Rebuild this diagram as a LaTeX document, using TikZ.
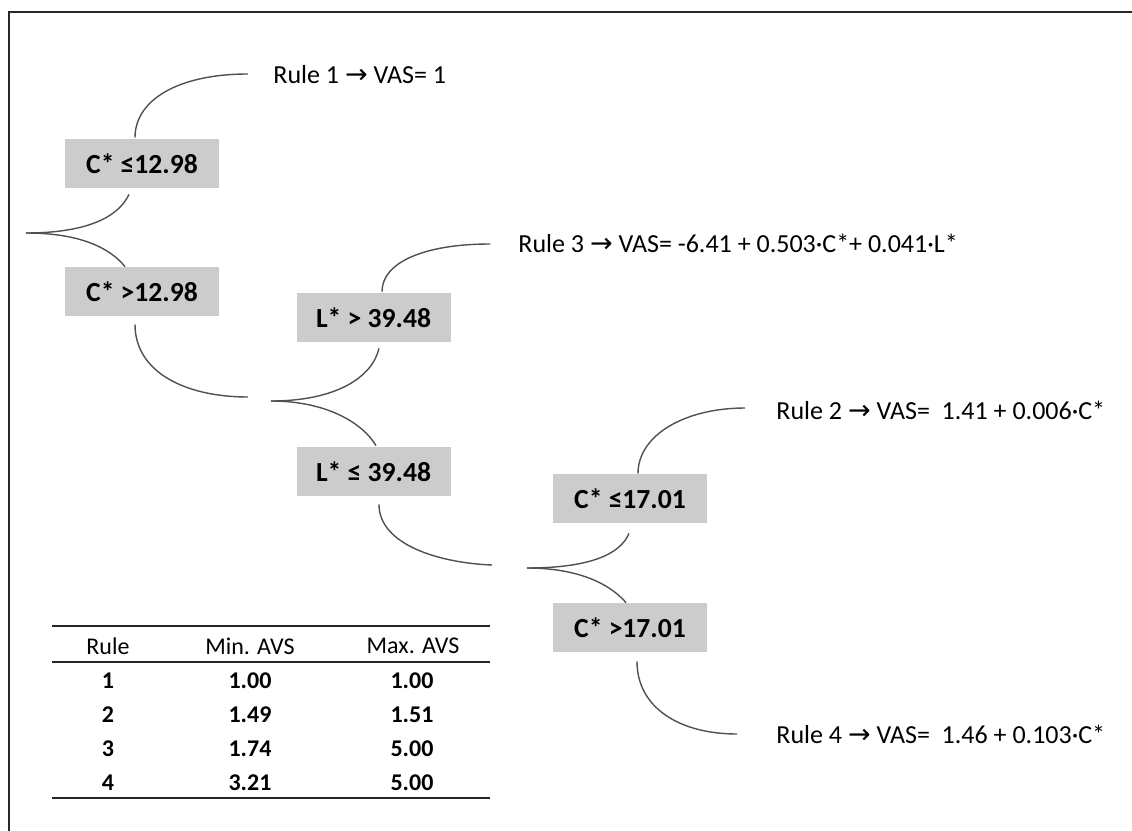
\documentclass[tikz,border=0pt]{standalone}
\usepackage{fontspec}
\setmainfont{Carlito}
\newfontfamily\symfont{DejaVu Sans}
\usetikzlibrary{calc}
\definecolor{boxgray}{RGB}{204,204,204}
\definecolor{linegray}{RGB}{80,80,80}
\definecolor{framegray}{RGB}{40,40,40}
\newcommand{\ra}{{\symfont\fontsize{13.5}{13.5}\selectfont →}}

\begin{document}
\begin{tikzpicture}[x=0.5pt, y=-0.5pt,
  cond/.style={fill=boxgray, minimum width=77pt, minimum height=24.5pt,
    inner sep=0pt, font=\fontsize{13.8}{15}\selectfont\bfseries},
  rulelabel/.style={anchor=west, inner sep=0pt, font=\fontsize{13}{15}\selectfont},
  branch/.style={draw=linegray, line width=0.7pt},
  cell/.style={inner sep=0pt, font=\fontsize{12}{14}\selectfont},
  datacell/.style={cell, font=\fontsize{12}{14}\selectfont\bfseries},
  tablerule/.style={draw=black!85, line width=0.9pt}]

\useasboundingbox (0,0) rectangle (1132,831);

% open frame: top and left edges only
\draw[framegray, line width=0.8pt] (9,831) -- (9,12) -- (1132,12);

% split points of the tree
\coordinate (s1) at (26,233);
\coordinate (s2) at (271,401);
\coordinate (s3) at (527,568);

% condition boxes
\node[cond] (c1) at (142,163.5) {C* ≤12.98};
\node[cond] (c2) at (142,291.5) {C* >12.98};
\node[cond] (l1) at (373.5,317.5) {L* > 39.48};
\node[cond] (l2) at (373.5,471.5) {L* ≤ 39.48};
\node[cond] (k1) at (630,498.5) {C* ≤17.01};
\node[cond] (k2) at (630,627.5) {C* >17.01};

% leaf ends and rule labels
\coordinate (e1) at (248,74);
\coordinate (e3) at (490,244);
\coordinate (e2) at (745,408);
\coordinate (e4) at (737,734);
\node[rulelabel] (r1) at (273,75) {Rule 1 \ra\ VAS= 1};
\node[rulelabel] (r3) at (518,243) {Rule 3 \ra\ VAS= -6.41 + 0.503·C*+ 0.041·L*};
\node[rulelabel] (r2) at (776,410) {Rule 2 \ra\ VAS=\ \ 1.41 + 0.006·C*};
\node[rulelabel] (r4) at (776,734) {Rule 4 \ra\ VAS=\ \ 1.46 + 0.103·C*};

% first split
\draw[branch] (s1) .. controls (85,233) and (118,218) .. ($(c1.south)+(-13,6)$);
\draw[branch] (s1) .. controls (80,233) and (110,248) .. ($(c2.north)+(-17,0)$);
\draw[branch] ($(c1.north)+(-7,-1)$) .. controls (135,100) and (178,74) .. (e1);
\draw[branch] ($(c2.south)+(-7,8)$) .. controls (135,372) and (185,397) .. ($(s2)+(-23,-4)$);

% second split
\draw[branch] (s2) .. controls (335,401) and (372,378) .. ($(l1.south)+(5.5,6)$);
\draw[branch] (s2) .. controls (325,401) and (362,422) .. ($(l2.north)+(2.5,-1)$);
\draw[branch] ($(l1.north)+(8.5,-1)$) .. controls (382,262) and (425,244) .. (e3);
\draw[branch] ($(l2.south)+(5.5,8)$) .. controls (379,545) and (440,563) .. ($(s3)+(-35,-3)$);

% third split
\draw[branch] (s3) .. controls (588,568) and (620,555) .. ($(k1.south)+(-1,10)$);
\draw[branch] (s3) .. controls (575,568) and (608,582) .. ($(k2.north)+(-4,0)$);
\draw[branch] ($(k1.north)+(8,0)$) .. controls (638,435) and (685,408) .. (e2);
\draw[branch] ($(k2.south)+(7,9)$) .. controls (637,708) and (680,734) .. (e4);

% summary table
\coordinate (tl) at (52,626);  \coordinate (tr) at (490,626);
\coordinate (hl) at (52,662);  \coordinate (hr) at (490,662);
\coordinate (bl) at (52,798);  \coordinate (br) at (490,798);
\draw[tablerule, line width=1pt] (tl) -- (tr);
\draw[tablerule] (hl) -- (hr);
\draw[tablerule, line width=1pt] (bl) -- (br);

\node[cell] (h1) at (108,646) {Rule};
\node[cell] (h2) at (250,646) {Min. AVS};
\node[cell] (h3) at (413,646) {Max. AVS};

\node[datacell] (a1) at (108,681) {1};
\node[datacell] (b1) at (250,681) {1.00};
\node[datacell] (d1) at (412,681) {1.00};
\node[datacell] (a2) at (108,715) {2};
\node[datacell] (b2) at (250,715) {1.49};
\node[datacell] (d2) at (412,715) {1.51};
\node[datacell] (a3) at (108,749) {3};
\node[datacell] (b3) at (250,749) {1.74};
\node[datacell] (d3) at (412,749) {5.00};
\node[datacell] (a4) at (108,783) {4};
\node[datacell] (b4) at (250,783) {3.21};
\node[datacell] (d4) at (412,783) {5.00};
\end{tikzpicture}
\end{document}
